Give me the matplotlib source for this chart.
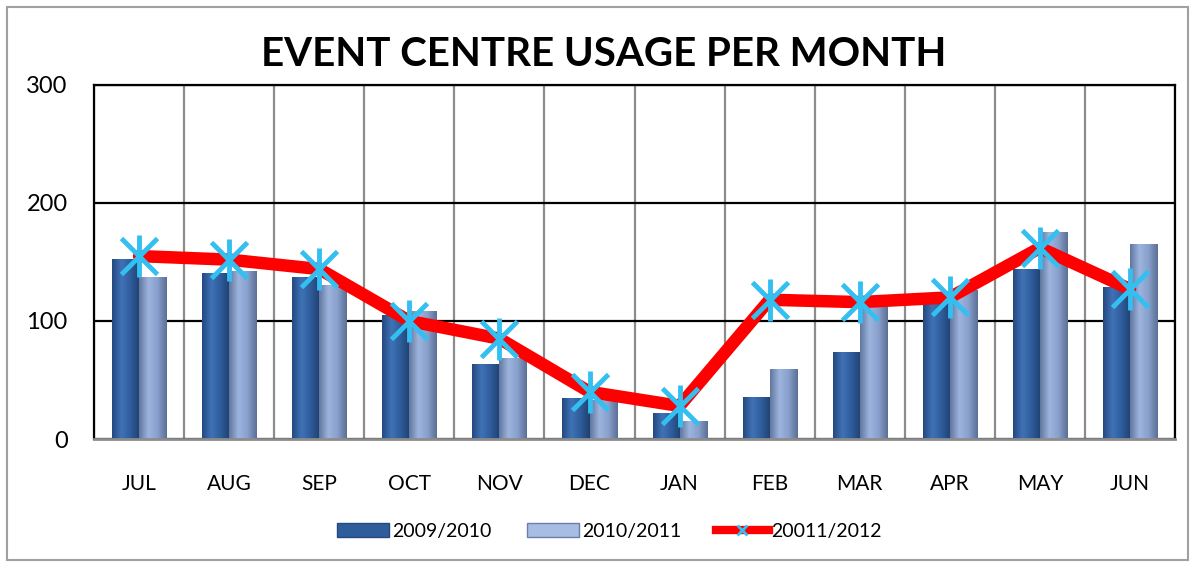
import numpy as np
import matplotlib
matplotlib.use('Agg')
import matplotlib.pyplot as plt
from matplotlib.patches import Rectangle
from matplotlib.lines import Line2D
from matplotlib.colors import LinearSegmentedColormap

months = ['JUL', 'AUG', 'SEP', 'OCT', 'NOV', 'DEC', 'JAN', 'FEB', 'MAR', 'APR', 'MAY', 'JUN']
usage_0910 = [152, 140, 137, 105, 63, 34, 22, 35, 73, 115, 144, 128]
usage_1011 = [137, 142, 130, 108, 68, 33, 15, 59, 114, 126, 175, 165]
usage_1112 = [155, 152, 144, 100, 85, 40, 28, 118, 116, 120, 162, 127]
series_names = ['2009/2010', '2010/2011', '20011/2012']

plt.rcParams['font.family'] = ['Lato', 'DejaVu Sans']

fig = plt.figure(figsize=(11.95, 5.65), dpi=100)
ax = fig.add_axes([0.0787, 0.223, 0.9046, 0.6266])

# zylinder-artige Schattierung per Farbverlauf
dark_cmap = LinearSegmentedColormap.from_list('dk', ['#24497f', '#3f72b6', '#2f5d9c', '#1f4070'])
light_cmap = LinearSegmentedColormap.from_list('lt', ['#61779f', '#9db4de', '#88a0cc', '#5c6f96'])
grad = np.linspace(0, 1, 64).reshape(1, -1)

x = np.arange(len(months))
w = 0.3
bars1 = ax.bar(x - w / 2, usage_0910, w, color='#2f5d9c', zorder=2)
bars2 = ax.bar(x + w / 2, usage_1011, w, color='#88a0cc', zorder=2)
for bars, cm in ((bars1, dark_cmap), (bars2, light_cmap)):
    for b in bars:
        x0, h, bw = b.get_x(), b.get_height(), b.get_width()
        ax.imshow(grad, cmap=cm, aspect='auto', extent=(x0, x0 + bw, -3, h),
                  zorder=2.1, interpolation='bicubic')

ax.plot(x, usage_1112, color='#ff0000', lw=9, solid_joinstyle='round',
        solid_capstyle='round', zorder=3)
ax.plot(x, usage_1112, ls='none', marker='x', ms=26, mew=3.5, color='#33bff0', zorder=4)
ax.plot(x, usage_1112, ls='none', marker='|', ms=30, mew=3.5, color='#33bff0', zorder=4)

ax.set_xlim(-0.5, 11.5)
ax.set_ylim(0, 300)
ax.set_yticks([0, 100, 200, 300])
ax.set_xticks(x)
ax.set_xticklabels(months)
ax.set_xticks(np.arange(-0.5, 12, 1), minor=True)
ax.tick_params(axis='x', which='both', length=0, pad=25, labelsize=15)
ax.tick_params(axis='y', length=0, pad=19, labelsize=17)
ax.grid(axis='x', which='minor', color='#8c8c8c', lw=1.6, zorder=0)
ax.grid(axis='y', which='major', color='black', lw=1.6, zorder=0)
for side in ('left', 'right', 'top'):
    ax.spines[side].set_color('black')
    ax.spines[side].set_linewidth(1.6)
ax.spines['bottom'].set_color('#8c8c8c')
ax.spines['bottom'].set_linewidth(2)

fig.text(0.505, 0.903, 'EVENT CENTRE USAGE PER MONTH', ha='center', va='center',
         fontsize=29, fontweight='bold')

handles = [Rectangle((0, 0), 1, 1, facecolor='#2f5d9c', edgecolor='#24497f'),
           Rectangle((0, 0), 1, 1, facecolor='#a8bde3', edgecolor='#6c7fa6'),
           Line2D([], [], color='#ff0000', lw=6, marker='x', ms=7, mew=2, mec='#33bff0')]
fig.legend(handles, series_names, loc='center', bbox_to_anchor=(0.51, 0.06), ncol=3,
           frameon=False, fontsize=14, handlelength=2.7, columnspacing=1.8, handletextpad=0.15)

fig.patches.append(Rectangle((0.006, 0.008), 0.988, 0.98, transform=fig.transFigure,
                             fill=False, edgecolor='#a0a0a0', lw=1.5))

fig.savefig('out.png', dpi=100)
